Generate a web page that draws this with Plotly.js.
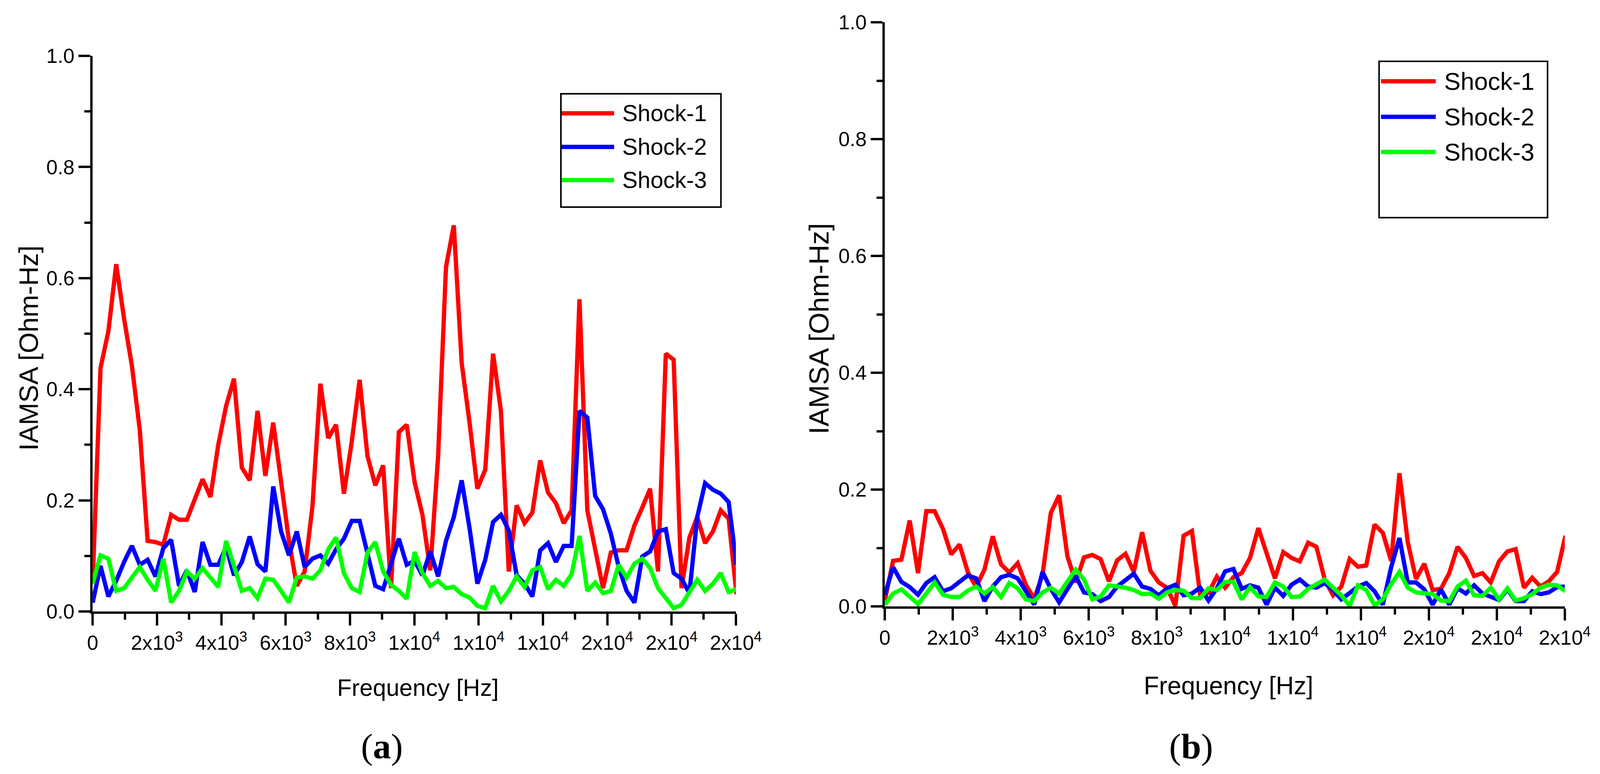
<!DOCTYPE html>
<html>
<head>
<meta charset="utf-8">
<script src="https://cdn.plot.ly/plotly-3.0.1.min.js"></script>
<style>
  html, body { margin: 0; padding: 0; background: #fff; overflow: hidden; }
  #chart { width: 100vw; height: 100vh; }
</style>
</head>
<body>
<div id="chart"></div>
<script>
// frequency bins, Hz
const freq = [0, 244, 488, 732, 977, 1221, 1465, 1709, 1953, 2197,
    2441, 2686, 2930, 3174, 3418, 3662, 3906, 4150, 4395, 4639,
    4883, 5127, 5371, 5615, 5859, 6104, 6348, 6592, 6836, 7080,
    7324, 7568, 7813, 8057, 8301, 8545, 8789, 9033, 9277, 9521,
    9766, 10010, 10254, 10498, 10742, 10986, 11230, 11475, 11719, 11963,
    12207, 12451, 12695, 12939, 13184, 13428, 13672, 13916, 14160, 14404,
    14648, 14893, 15137, 15381, 15625, 15869, 16113, 16357, 16602, 16846,
    17090, 17334, 17578, 17822, 18066, 18311, 18555, 18799, 19043, 19287,
    19531, 19775, 20020];

// panel (a)
const shock1A = [0.05, 0.438, 0.504, 0.625, 0.527, 0.442, 0.327, 0.127, 0.125, 0.12,
    0.174, 0.165, 0.165, 0.204, 0.238, 0.206, 0.30, 0.37, 0.419, 0.259,
    0.236, 0.361, 0.244, 0.34, 0.24, 0.127, 0.046, 0.072, 0.19, 0.41,
    0.312, 0.336, 0.212, 0.306, 0.417, 0.28, 0.227, 0.263, 0.042, 0.323,
    0.336, 0.233, 0.174, 0.074, 0.28, 0.62, 0.695, 0.447, 0.34, 0.221,
    0.255, 0.464, 0.361, 0.072, 0.191, 0.159, 0.178, 0.272, 0.214, 0.195,
    0.159, 0.182, 0.562, 0.182, 0.112, 0.042, 0.106, 0.11, 0.11, 0.155,
    0.187, 0.221, 0.072, 0.464, 0.453, 0.042, 0.133, 0.17, 0.123, 0.144,
    0.182, 0.167, 0.031];
const shock2A = [0.016, 0.082, 0.027, 0.055, 0.089, 0.118, 0.084, 0.093, 0.063, 0.114,
    0.129, 0.046, 0.074, 0.035, 0.125, 0.084, 0.084, 0.116, 0.065, 0.089,
    0.135, 0.085, 0.072, 0.225, 0.144, 0.101, 0.144, 0.08, 0.095, 0.101,
    0.086, 0.112, 0.131, 0.163, 0.163, 0.106, 0.046, 0.04, 0.084, 0.131,
    0.084, 0.091, 0.065, 0.108, 0.063, 0.127, 0.17, 0.236, 0.15, 0.05,
    0.093, 0.161, 0.174, 0.146, 0.065, 0.05, 0.027, 0.11, 0.123, 0.089,
    0.118, 0.118, 0.361, 0.349, 0.208, 0.184, 0.14, 0.08, 0.037, 0.016,
    0.099, 0.108, 0.144, 0.148, 0.069, 0.059, 0.033, 0.17, 0.231, 0.219,
    0.212, 0.197, 0.084];
const shock3A = [0.05, 0.101, 0.095, 0.037, 0.042, 0.061, 0.08, 0.057, 0.037, 0.095,
    0.016, 0.037, 0.072, 0.059, 0.078, 0.061, 0.044, 0.127, 0.084, 0.037,
    0.042, 0.024, 0.059, 0.057, 0.037, 0.016, 0.061, 0.063, 0.059, 0.074,
    0.112, 0.133, 0.069, 0.042, 0.035, 0.106, 0.125, 0.072, 0.048, 0.037,
    0.023, 0.107, 0.069, 0.046, 0.055, 0.042, 0.044, 0.031, 0.025, 0.01,
    0.006, 0.046, 0.018, 0.037, 0.063, 0.044, 0.074, 0.08, 0.04, 0.057,
    0.046, 0.067, 0.136, 0.037, 0.052, 0.033, 0.037, 0.084, 0.061, 0.086,
    0.095, 0.078, 0.042, 0.023, 0.006, 0.012, 0.033, 0.057, 0.037, 0.05,
    0.069, 0.035, 0.04];

// panel (b)
const shock1B = [0.01, 0.078, 0.08, 0.147, 0.057, 0.163, 0.163, 0.133, 0.089, 0.106,
    0.059, 0.033, 0.063, 0.12, 0.072, 0.058, 0.074, 0.037, 0.013, 0.054,
    0.16, 0.19, 0.086, 0.041, 0.084, 0.088, 0.081, 0.043, 0.079, 0.09,
    0.059, 0.127, 0.061, 0.041, 0.032, 0.001, 0.121, 0.129, 0.019, 0.023,
    0.051, 0.032, 0.05, 0.057, 0.083, 0.134, 0.091, 0.048, 0.093, 0.083,
    0.077, 0.109, 0.102, 0.046, 0.019, 0.034, 0.081, 0.068, 0.07, 0.14,
    0.126, 0.078, 0.228, 0.11, 0.047, 0.073, 0.028, 0.03, 0.057, 0.102,
    0.083, 0.052, 0.057, 0.041, 0.077, 0.094, 0.098, 0.032, 0.049, 0.034,
    0.043, 0.059, 0.121];
const shock2B = [0.02, 0.067, 0.042, 0.033, 0.02, 0.04, 0.05, 0.026, 0.031, 0.042,
    0.053, 0.048, 0.009, 0.034, 0.05, 0.054, 0.048, 0.026, 0.003, 0.059,
    0.03, 0.007, 0.028, 0.052, 0.024, 0.021, 0.009, 0.016, 0.034, 0.046,
    0.056, 0.034, 0.03, 0.019, 0.031, 0.037, 0.019, 0.022, 0.032, 0.01,
    0.031, 0.06, 0.064, 0.03, 0.036, 0.032, 0.003, 0.032, 0.018, 0.037,
    0.046, 0.034, 0.032, 0.04, 0.028, 0.012, 0.022, 0.034, 0.04, 0.026,
    0.003, 0.067, 0.117, 0.041, 0.041, 0.029, 0.003, 0.029, 0.003, 0.031,
    0.022, 0.036, 0.022, 0.016, 0.011, 0.029, 0.009, 0.009, 0.026, 0.021,
    0.024, 0.033, 0.034];
const shock3B = [0.003, 0.022, 0.029, 0.016, 0.004, 0.022, 0.041, 0.02, 0.016, 0.016,
    0.027, 0.034, 0.022, 0.033, 0.016, 0.04, 0.031, 0.012, 0.009, 0.024,
    0.032, 0.022, 0.043, 0.063, 0.046, 0.012, 0.017, 0.036, 0.034, 0.032,
    0.028, 0.021, 0.022, 0.013, 0.024, 0.028, 0.027, 0.014, 0.014, 0.031,
    0.028, 0.042, 0.042, 0.012, 0.033, 0.017, 0.016, 0.041, 0.034, 0.016,
    0.017, 0.03, 0.038, 0.046, 0.032, 0.019, 0.001, 0.036, 0.028, 0.002,
    0.012, 0.038, 0.059, 0.032, 0.024, 0.022, 0.021, 0.01, 0.009, 0.034,
    0.044, 0.019, 0.018, 0.032, 0.012, 0.031, 0.01, 0.014, 0.021, 0.032,
    0.037, 0.036, 0.026];

const seriesNames = ["Shock-1", "Shock-2", "Shock-3"];
const seriesColors = ["#FF0000", "#0000FF", "#00FF00"];

const xTickVals = [0, 2000, 4000, 6000, 8000, 10000, 12000, 14000, 16000, 18000, 20000];
const xTickText = ["0", "2x10<sup>3</sup>", "4x10<sup>3</sup>", "6x10<sup>3</sup>", "8x10<sup>3</sup>",
    "1x10<sup>4</sup>", "1x10<sup>4</sup>", "1x10<sup>4</sup>", "2x10<sup>4</sup>", "2x10<sup>4</sup>", "2x10<sup>4</sup>"];

// positions below are measured on the 4179 x 1981 original, kept as paper fractions
const REF_W = 4179, REF_H = 1981;
const fx = x => x / REF_W;
const fy = y => 1 - y / REF_H;
const SANS = "Liberation Sans, Arial, sans-serif";
const SERIF = "Liberation Serif, Times New Roman, serif";

const panels = [
    {xa: "x", ya: "y", series: [shock1A, shock2A, shock3A]},
    {xa: "x2", ya: "y2", series: [shock1B, shock2B, shock3B]},
];

const data = [];
for (const p of panels) {
    p.series.forEach((s, k) => {
        data.push({
            type: "scatter",
            mode: "lines",
            x: freq,
            y: s,
            name: seriesNames[k],
            xaxis: p.xa,
            yaxis: p.ya,
            line: {color: seriesColors[k], width: 11},
            showlegend: false,
        });
    });
}

function xAxis(domain, anchor) {
    return {
        domain, anchor,
        range: [0, 20000],
        tickmode: "array", tickvals: xTickVals, ticktext: xTickText,
        ticks: "outside", ticklen: 30, tickwidth: 6, tickcolor: "#000",
        minor: {tickmode: "linear", tick0: 0, dtick: 1000, ticks: "outside", ticklen: 15, tickwidth: 6, tickcolor: "#000", showgrid: false},
        showline: true, linewidth: 6, linecolor: "#000",
        showgrid: false, zeroline: false,
        tickfont: {family: SANS, size: 52, color: "#000"},
    };
}
function yAxis(domain, anchor) {
    return {
        domain, anchor,
        range: [0, 1.0],
        tickmode: "linear", tick0: 0, dtick: 0.2, tickformat: ".1f",
        ticks: "outside", ticklen: 30, tickwidth: 6, tickcolor: "#000",
        minor: {tickmode: "linear", tick0: 0, dtick: 0.1, ticks: "outside", ticklen: 15, tickwidth: 6, tickcolor: "#000", showgrid: false},
        showline: true, linewidth: 6, linecolor: "#000",
        showgrid: false, zeroline: false,
        tickfont: {family: SANS, size: 52, color: "#000"},
    };
}

// hand-drawn legends (long line samples like the original)
const legends = [
    {box: [1465, 240, 1883, 530], rows: [290, 376, 461], line: [1467, 1604], text: 1623, size: 59},
    {box: [3602, 157, 4042, 557], rows: [208, 299, 389], line: [3607, 3750], text: 3770, size: 63},
];
const shapes = [];
const annotations = [];
for (const lg of legends) {
    shapes.push({type: "rect", xref: "paper", yref: "paper",
        x0: fx(lg.box[0]), x1: fx(lg.box[2]), y0: fy(lg.box[3]), y1: fy(lg.box[1]),
        line: {color: "#000", width: 4}, fillcolor: "#fff", layer: "above"});
    lg.rows.forEach((ry, k) => {
        shapes.push({type: "line", xref: "paper", yref: "paper",
            x0: fx(lg.line[0]), x1: fx(lg.line[1]), y0: fy(ry), y1: fy(ry),
            line: {color: seriesColors[k], width: 11}, layer: "above"});
        annotations.push({xref: "paper", yref: "paper", x: fx(lg.text), y: fy(ry),
            xanchor: "left", yanchor: "middle", showarrow: false, text: seriesNames[k],
            font: {family: SANS, size: lg.size, color: "#000"}});
    });
}

// axis titles and panel labels
const titles = [
    {text: "IAMSA [Ohm-Hz]", x: 75, y: 891, angle: -90, size: 69},
    {text: "IAMSA [Ohm-Hz]", x: 2138, y: 842, angle: -90, size: 71},
    {text: "Frequency [Hz]", x: 1092, y: 1760, angle: 0, size: 61},
    {text: "Frequency [Hz]", x: 3209, y: 1755, angle: 0, size: 64},
];
for (const t of titles) {
    annotations.push({xref: "paper", yref: "paper", x: fx(t.x), y: fy(t.y),
        xanchor: "center", yanchor: "middle", showarrow: false, textangle: t.angle,
        text: t.text, font: {family: SANS, size: t.size, color: "#000"}});
}
for (const lab of [{text: "(<b>a</b>)", x: 997}, {text: "(<b>b</b>)", x: 3111}]) {
    annotations.push({xref: "paper", yref: "paper", x: fx(lab.x), y: fy(1910),
        xanchor: "center", yanchor: "middle", showarrow: false,
        text: lab.text, font: {family: SERIF, size: 92, color: "#000"}});
}

const layout = {
    width: window.innerWidth || REF_W,
    height: window.innerHeight || REF_H,
    margin: {l: 0, r: 0, t: 0, b: 0},
    paper_bgcolor: "#fff", plot_bgcolor: "#fff",
    showlegend: false,
    xaxis: xAxis([fx(242), fx(1922)], "y"),
    yaxis: yAxis([fy(1565), fy(143)], "x"),
    xaxis2: xAxis([fx(2311), fx(4087)], "y2"),
    yaxis2: yAxis([fy(1552), fy(57)], "x2"),
    shapes, annotations,
};

Plotly.newPlot("chart", data, layout, {staticPlot: true});
</script>
</body>
</html>
